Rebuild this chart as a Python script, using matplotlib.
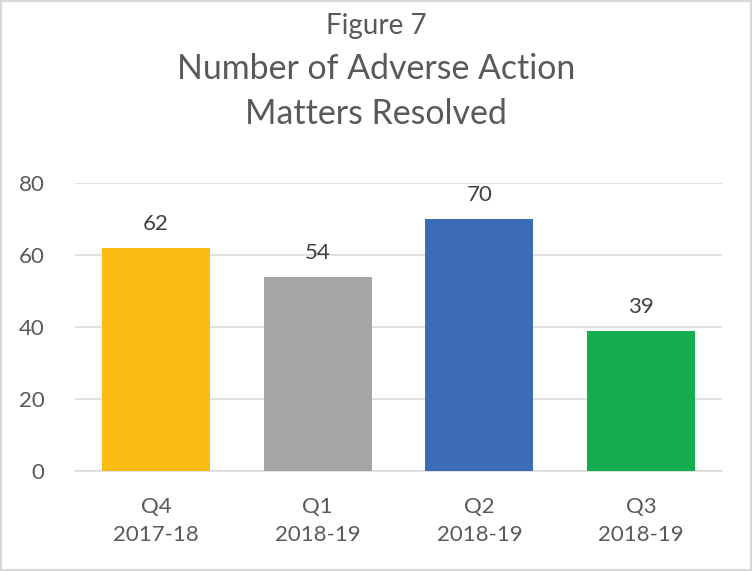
import matplotlib
matplotlib.use("Agg")
import matplotlib.pyplot as plt
from matplotlib.patches import Rectangle

categories = ["Q4\n2017-18", "Q1\n2018-19", "Q2\n2018-19", "Q3\n2018-19"]
values = [62, 54, 70, 39]
bar_colors = ["#FBBD14", "#A5A5A5", "#3D6CB6", "#15AE4F"]
yticks = [0, 20, 40, 60, 80]
title_top = "Figure 7"
title_main = ["Number of Adverse Action", "Matters Resolved"]

plt.rcParams["font.family"] = ["Lato", "DejaVu Sans"]

W, H = 752, 571
fig = plt.figure(figsize=(W / 100, H / 100), dpi=100)
fig.patch.set_facecolor("white")

ax = fig.add_axes([75 / W, (H - 471) / H, (722 - 75) / W, (471 - 183) / H])
x = list(range(len(categories)))
ax.bar(x, values, width=0.668, color=bar_colors, zorder=3)
ax.set_xlim(-0.5, len(categories) - 0.5)
ax.set_ylim(0, 80)
ax.set_yticks(yticks)
ax.set_xticks(x)
ax.set_xticklabels(categories, linespacing=1.5)
for s in ["top", "right", "left"]:
    ax.spines[s].set_visible(False)
ax.spines["bottom"].set_color("#D9D9D9")
ax.spines["bottom"].set_linewidth(1.1)
ax.spines["bottom"].set_zorder(2)
ax.grid(axis="y", color="#D9D9D9", linewidth=1.1, zorder=1)
ax.tick_params(axis="y", length=0, pad=22, labelsize=16, labelcolor="#595959")
ax.tick_params(axis="x", length=0, pad=18.5, labelsize=16, labelcolor="#595959")

for xi, v in zip(x, values):
    ax.annotate(str(v), (xi, v), xytext=(0, 12.7), textcoords="offset points",
                ha="center", va="baseline", fontsize=16, color="#404040")

fig.text(0.5, 1 - 34 / H, title_top, ha="center", va="baseline",
         fontsize=20, color="#595959")
fig.text(0.5, 1 - 79.3 / H, title_main[0], ha="center", va="baseline",
         fontsize=24.4, color="#595959")
fig.text(0.5, 1 - 124 / H, title_main[1], ha="center", va="baseline",
         fontsize=24.4, color="#595959")

fig.patches.append(Rectangle((0, 0), 1, 1, transform=fig.transFigure, fill=False,
                             edgecolor="#D9D9D9", linewidth=3, zorder=10))

fig.savefig("out.png", dpi=100)
